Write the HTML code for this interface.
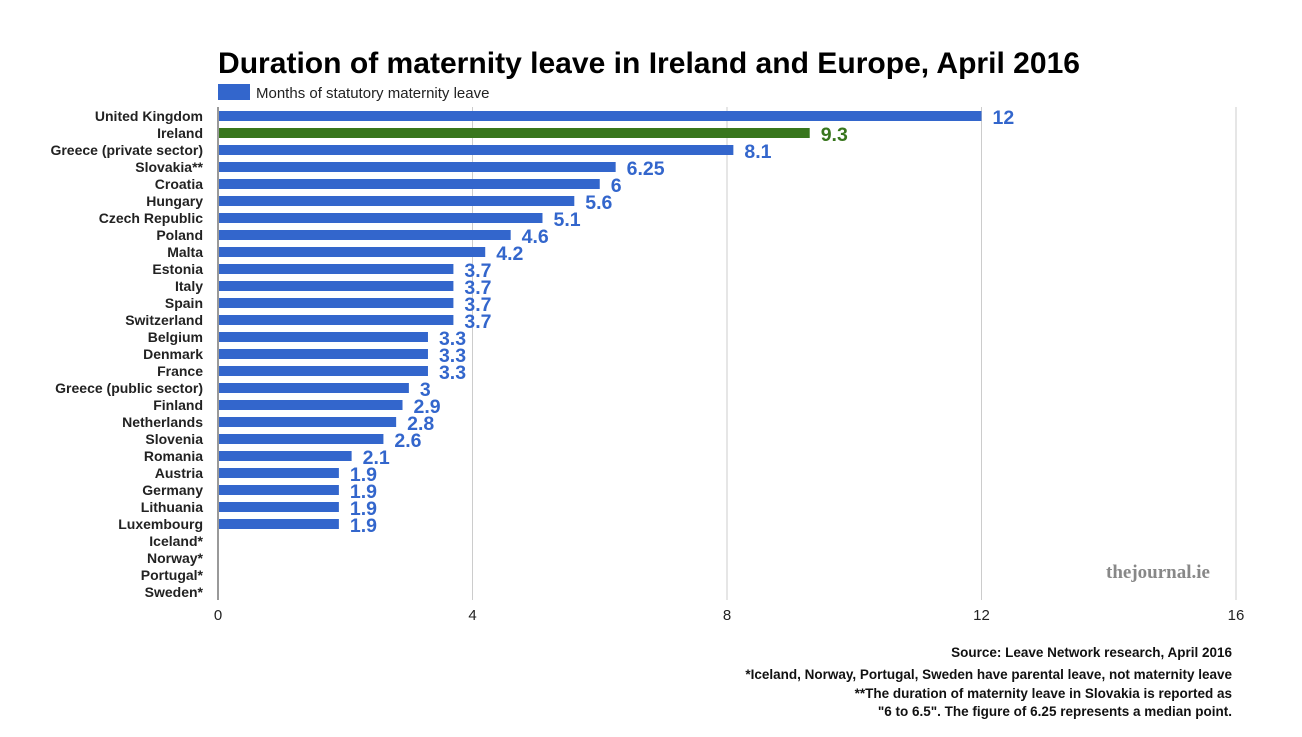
<!DOCTYPE html>
<html><head><meta charset="utf-8"><style>
body{margin:0;background:#fff;font-family:"Liberation Sans",Arial,sans-serif;}
svg text{font-family:"Liberation Sans",Arial,sans-serif;}
</style></head><body>
<svg id="chart" width="1302" height="732" xmlns="http://www.w3.org/2000/svg">
<text x="218" y="73" font-size="30" font-weight="bold" fill="#000" textLength="862" lengthAdjust="spacingAndGlyphs">Duration of maternity leave in Ireland and Europe, April 2016</text>
<rect x="218" y="84" width="32" height="16" fill="#3366cc"/>
<text x="256" y="98" font-size="15" fill="#222">Months of statutory maternity leave</text>
<g id="grid"></g><g id="bars"></g>
<text x="1210" y="578" font-size="19" font-weight="bold" fill="#888" text-anchor="end" style="font-family:'Liberation Serif',serif">thejournal.ie</text>
<g font-size="13.5" font-weight="bold" fill="#111" text-anchor="end">
<text x="1232" y="657">Source: Leave Network research, April 2016</text>
<text x="1232" y="679">*Iceland, Norway, Portugal, Sweden have parental leave, not maternity leave</text>
<text x="1232" y="698">**The duration of maternity leave in Slovakia is reported as</text>
<text x="1232" y="716">"6 to 6.5". The figure of 6.25 represents a median point.</text>
</g>
</svg>
<script>
const categories=["United Kingdom","Ireland","Greece (private sector)","Slovakia**","Croatia","Hungary","Czech Republic","Poland","Malta","Estonia","Italy","Spain","Switzerland","Belgium","Denmark","France","Greece (public sector)","Finland","Netherlands","Slovenia","Romania","Austria","Germany","Lithuania","Luxembourg","Iceland*","Norway*","Portugal*","Sweden*"];
const values=[12,9.3,8.1,6.25,6,5.6,5.1,4.6,4.2,3.7,3.7,3.7,3.7,3.3,3.3,3.3,3,2.9,2.8,2.6,2.1,1.9,1.9,1.9,1.9,null,null,null,null];
const labels=["12","9.3","8.1","6.25","6","5.6","5.1","4.6","4.2","3.7","3.7","3.7","3.7","3.3","3.3","3.3","3","2.9","2.8","2.6","2.1","1.9","1.9","1.9","1.9","","","",""];
const ticks=[0,4,8,12,16];
const NS="http://www.w3.org/2000/svg";
const x0=218,x1=1236,xmax=16,top0=111,step=17,bh=10;
const xs=v=>x0+(x1-x0)*v/xmax;
const ys=i=>top0+i*step;
function mk(t,a,p){const e=document.createElementNS(NS,t);for(const k in a)e.setAttribute(k,a[k]);p.appendChild(e);return e;}
const g=document.getElementById('grid'),b=document.getElementById('bars');
ticks.forEach(t=>{
 const l=mk('line',{x1:xs(t),x2:xs(t),y1:107,y2:600,stroke:t===0?'#333':'#ccc','stroke-width':1},g);
 
 
 const tx=mk('text',{x:xs(t),y:620,'font-size':15,fill:'#222','text-anchor':'middle'},g);
 tx.textContent=t;
 
 
});
categories.forEach((c,i)=>{
 const lab=mk('text',{x:203,y:ys(i)+10,'font-size':14,'font-weight':'bold',fill:'#222','text-anchor':'end'},b);
 lab.textContent=c;
 
 
 const v=values[i];
 if(v==null)return;
 const col=c==="Ireland"?'#38761d':'#3366cc';
 const r=mk('rect',{x:x0+1,y:ys(i),width:xs(v)-x0-1,height:bh,fill:col},b);
 
 
 const vt=mk('text',{x:xs(v)+11,y:ys(i)+13,'font-size':19.5,'font-weight':'bold',fill:col},b);
 vt.textContent=labels[i];
 
 
});
</script>
</body></html>
